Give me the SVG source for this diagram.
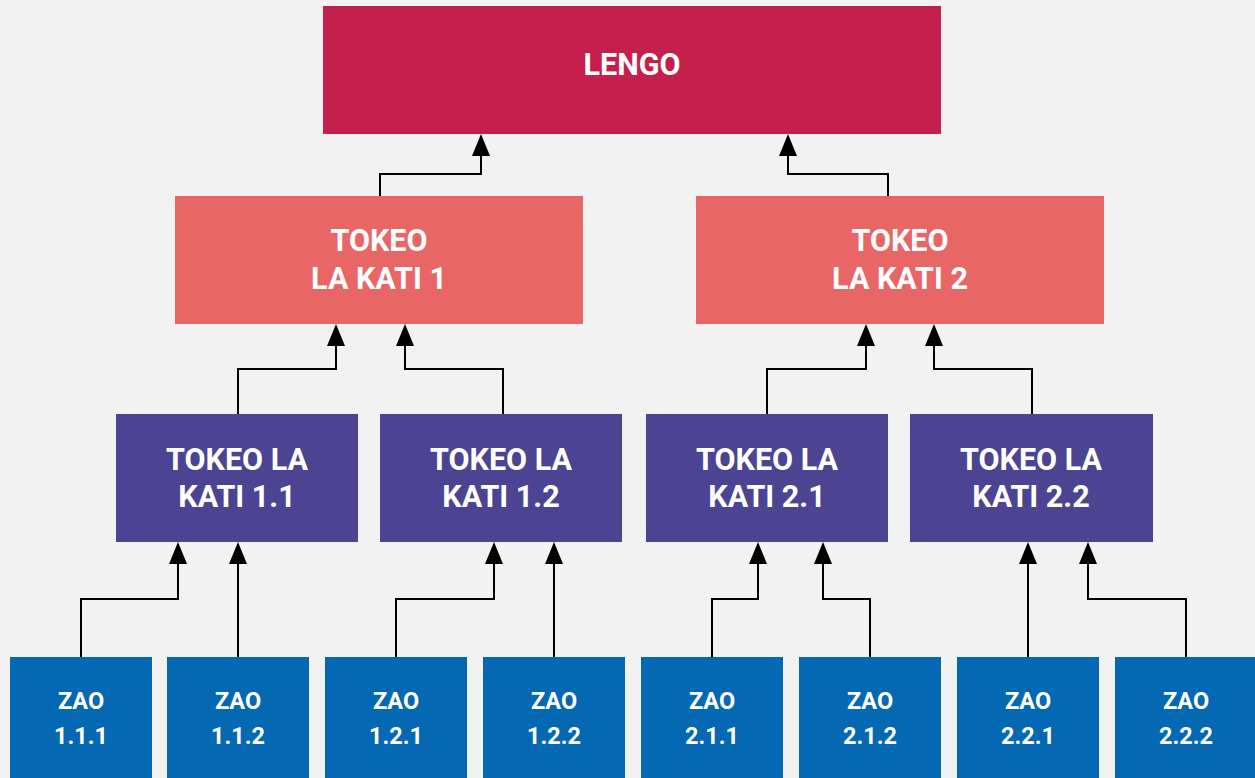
<svg xmlns="http://www.w3.org/2000/svg" width="1255" height="778" viewBox="0 0 1255 778">
<style>
.t{font-family:Roboto,"Liberation Sans",sans-serif;font-weight:bold;fill:#fff;text-anchor:middle}
.big{font-size:30.5px}
.sm{font-size:23.5px}
.c{fill:none;stroke:#000;stroke-width:2;marker-end:url(#ah)}
</style>
<defs>
<marker id="ah" markerUnits="userSpaceOnUse" viewBox="0 0 22 18" markerWidth="22" markerHeight="18" refX="17" refY="9" orient="auto">
<polygon points="0,0 22,9 0,18" fill="#000"/>
</marker>
</defs>
<rect width="1255" height="778" fill="#f2f2f2"/>
<g id="connectors">
<path class="c" d="M380,196 V174 H481 V139"/>
<path class="c" d="M888,196 V174 H788 V139"/>
<path class="c" d="M238,414 V369 H336 V329"/>
<path class="c" d="M503,414 V369 H405 V329"/>
<path class="c" d="M767,414 V369 H866 V329"/>
<path class="c" d="M1032,414 V369 H934 V329"/>
<path class="c" d="M81,657 V599 H178 V547"/>
<path class="c" d="M238,657 V547"/>
<path class="c" d="M396,657 V599 H494 V547"/>
<path class="c" d="M554,657 V547"/>
<path class="c" d="M712,657 V599 H758 V547"/>
<path class="c" d="M870,657 V599 H823 V547"/>
<path class="c" d="M1028,657 V547"/>
<path class="c" d="M1186,657 V599 H1088 V547"/>
</g>
<g id="lengo"><rect x="323" y="6" width="618" height="128" fill="#c51f4e"/><text class="t big" x="632" y="75">LENGO</text></g>
<g id="tokeo1"><rect x="175" y="196" width="408" height="128" fill="#e86666"/><text class="t big" x="379" y="251">TOKEO</text><text class="t big" x="379" y="289">LA KATI 1</text></g>
<g id="tokeo2"><rect x="696" y="196" width="408" height="128" fill="#e86666"/><text class="t big" x="900" y="251">TOKEO</text><text class="t big" x="900" y="289">LA KATI 2</text></g>
<g id="tokeo11"><rect x="116" y="414" width="242" height="128" fill="#4c4493"/><text class="t big" x="237" y="470">TOKEO LA</text><text class="t big" x="237" y="507">KATI 1.1</text></g>
<g id="tokeo12"><rect x="380" y="414" width="242" height="128" fill="#4c4493"/><text class="t big" x="501" y="470">TOKEO LA</text><text class="t big" x="501" y="507">KATI 1.2</text></g>
<g id="tokeo21"><rect x="646" y="414" width="242" height="128" fill="#4c4493"/><text class="t big" x="767" y="470">TOKEO LA</text><text class="t big" x="767" y="507">KATI 2.1</text></g>
<g id="tokeo22"><rect x="910" y="414" width="243" height="128" fill="#4c4493"/><text class="t big" x="1031" y="470">TOKEO LA</text><text class="t big" x="1031" y="507">KATI 2.2</text></g>
<g id="zao111"><rect x="10" y="657" width="142" height="121" fill="#0568b3"/><text class="t sm" x="81" y="709">ZAO</text><text class="t sm" x="81" y="744">1.1.1</text></g>
<g id="zao112"><rect x="167" y="657" width="142" height="121" fill="#0568b3"/><text class="t sm" x="238" y="709">ZAO</text><text class="t sm" x="238" y="744">1.1.2</text></g>
<g id="zao121"><rect x="325" y="657" width="142" height="121" fill="#0568b3"/><text class="t sm" x="396" y="709">ZAO</text><text class="t sm" x="396" y="744">1.2.1</text></g>
<g id="zao122"><rect x="483" y="657" width="142" height="121" fill="#0568b3"/><text class="t sm" x="554" y="709">ZAO</text><text class="t sm" x="554" y="744">1.2.2</text></g>
<g id="zao211"><rect x="641" y="657" width="142" height="121" fill="#0568b3"/><text class="t sm" x="712" y="709">ZAO</text><text class="t sm" x="712" y="744">2.1.1</text></g>
<g id="zao212"><rect x="799" y="657" width="142" height="121" fill="#0568b3"/><text class="t sm" x="870" y="709">ZAO</text><text class="t sm" x="870" y="744">2.1.2</text></g>
<g id="zao221"><rect x="957" y="657" width="142" height="121" fill="#0568b3"/><text class="t sm" x="1028" y="709">ZAO</text><text class="t sm" x="1028" y="744">2.2.1</text></g>
<g id="zao222"><rect x="1115" y="657" width="142" height="121" fill="#0568b3"/><text class="t sm" x="1186" y="709">ZAO</text><text class="t sm" x="1186" y="744">2.2.2</text></g>
</svg>
